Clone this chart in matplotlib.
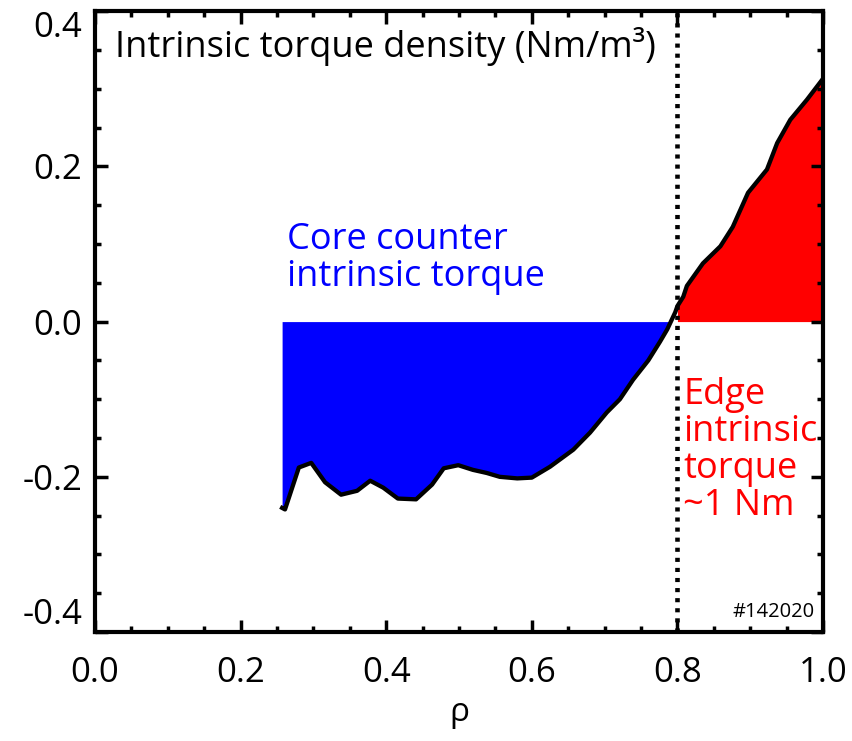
import numpy as np
import matplotlib
matplotlib.use("Agg")
import matplotlib.pyplot as plt
from matplotlib.ticker import MultipleLocator, FormatStrFormatter

plt.rcParams['font.family'] = ['Open Sans', 'DejaVu Sans']
plt.rcParams['axes.unicode_minus'] = False

# intrinsic torque density profile vs normalized radius
rho = [0.257, 0.261, 0.280, 0.297, 0.316, 0.338, 0.360, 0.378, 0.396, 0.416,
       0.441, 0.463, 0.479, 0.499, 0.519, 0.538, 0.556, 0.580, 0.600, 0.625,
       0.657, 0.680, 0.703, 0.721, 0.739, 0.760, 0.776, 0.786, 0.797, 0.800,
       0.808, 0.813, 0.835, 0.859, 0.876, 0.897, 0.923, 0.937, 0.955, 0.978,
       1.000]
torque = [-0.240, -0.242, -0.188, -0.182, -0.207, -0.223, -0.218, -0.205, -0.214, -0.228,
          -0.229, -0.210, -0.189, -0.185, -0.191, -0.195, -0.200, -0.202, -0.201, -0.187,
          -0.165, -0.143, -0.117, -0.100, -0.075, -0.050, -0.026, -0.010, 0.012, 0.020,
          0.032, 0.046, 0.075, 0.097, 0.122, 0.166, 0.196, 0.230, 0.260, 0.286,
          0.313]
rho_edge = 0.8
shot = "#142020"

rho = np.array(rho)
torque = np.array(torque)

fig = plt.figure(figsize=(8.52, 7.41), dpi=100)
ax = fig.add_axes([0.1115, 0.147, 0.8545, 0.838])

# core (negative) and edge (positive) regions
ax.fill_between(rho, torque, 0, where=torque <= 0, interpolate=True,
                color='#0000ff', linewidth=0)
ax.fill_between(rho, torque, 0, where=rho >= rho_edge,
                color='#ff0000', linewidth=0)
ax.plot(rho, torque, color='black', lw=3.1, solid_joinstyle='round')
ax.axvline(rho_edge, color='black', lw=3.3, linestyle=(0, (0.9, 1.3)))

ax.set_xlim(0, 1)
ax.set_ylim(-0.4, 0.4)
ax.xaxis.set_major_locator(MultipleLocator(0.2))
ax.xaxis.set_minor_locator(MultipleLocator(0.05))
ax.yaxis.set_major_locator(MultipleLocator(0.2))
ax.yaxis.set_minor_locator(MultipleLocator(0.05))
ax.xaxis.set_major_formatter(FormatStrFormatter('%.1f'))
ax.yaxis.set_major_formatter(FormatStrFormatter('%.1f'))

ax.tick_params(which='both', direction='in', top=True, right=True,
               width=2.5, labelsize=25)
ax.tick_params(which='major', length=9)
ax.tick_params(which='minor', length=4.5)
ax.tick_params(axis='x', which='major', pad=17.5)
ax.tick_params(axis='y', which='major', pad=9)
for s in ax.spines.values():
    s.set_linewidth(3)

ax.set_xlabel('ρ', fontsize=24, labelpad=4)

ax.text(0.027, 0.926, 'Intrinsic torque density (Nm/m³)', transform=ax.transAxes,
        fontsize=26, va='baseline', ha='left')
# multi-line labels: y is the baseline of the last line
ax.text(0.264, 0.046, 'Core counter\nintrinsic torque', color='#0000ff',
        fontsize=26, va='baseline', ha='left', linespacing=1.03)
ax.text(0.808, -0.249, 'Edge\nintrinsic\ntorque\n~1 Nm', color='#ff0000',
        fontsize=26, va='baseline', ha='left', linespacing=1.03)
ax.text(0.989, -0.380, shot, fontsize=14.5, va='baseline', ha='right')

fig.canvas.draw()
for lab in ax.get_yticklabels():
    if lab.get_text() == '-0.4':
        lab.set_verticalalignment('bottom')
    elif lab.get_text() == '0.4':
        lab.set_verticalalignment('top')

fig.savefig('out.png', dpi=100)
